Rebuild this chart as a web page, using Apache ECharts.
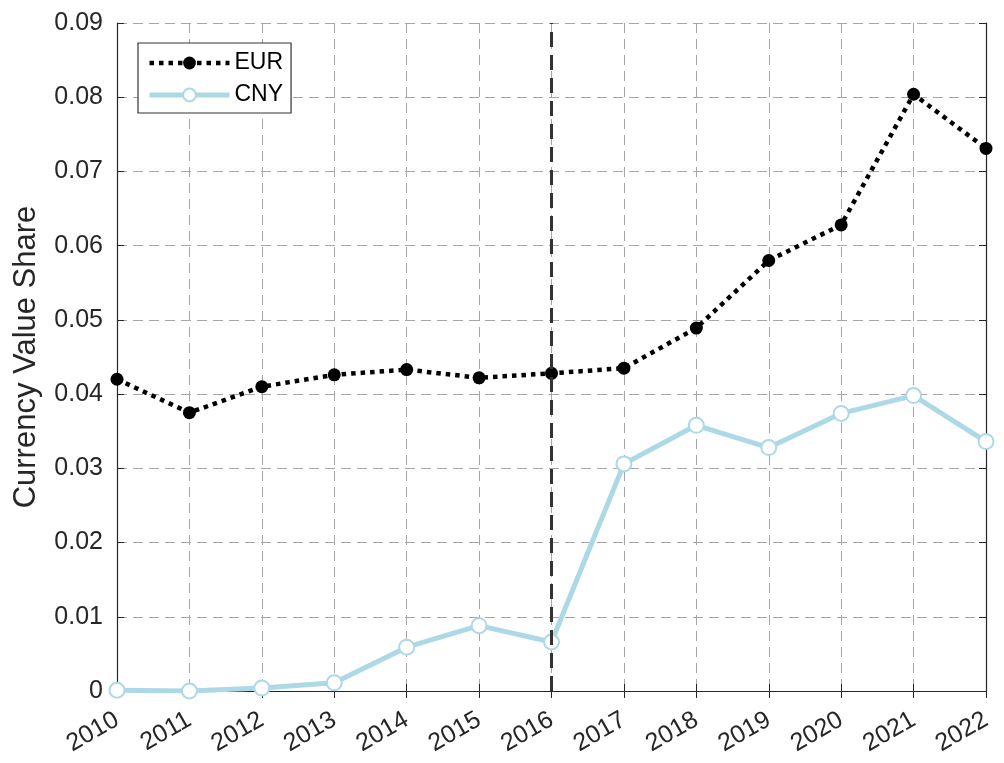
<!DOCTYPE html>
<html>
<head>
<meta charset="utf-8">
<script src="https://cdn.jsdelivr.net/npm/echarts@6/dist/echarts.min.js"></script>
<style>
  html, body { margin: 0; padding: 0; background: #fff; }
  #chart { width: 1004px; height: 763px; }
</style>
</head>
<body>
<div id="chart"></div>
<script>
// data
const years = ['2010', '2011', '2012', '2013', '2014', '2015', '2016',
  '2017', '2018', '2019', '2020', '2021', '2022'];
const eurShare = [0.0420, 0.0375, 0.0410, 0.0426, 0.0433, 0.0422, 0.0428,
  0.0435, 0.0489, 0.0580, 0.0628, 0.0804, 0.0731];
const cnyShare = [0.0001, 0.0000, 0.0004, 0.0011, 0.0059, 0.0088, 0.0066,
  0.0306, 0.0358, 0.0328, 0.0374, 0.0398, 0.0336];
const breakYear = '2016';

const txt = '#262626';
const blue = '#add8e6';
const gridLine = { show: true, lineStyle: { color: '#a6a6a6', type: [10, 6], width: 1 } };

const myChart = echarts.init(document.getElementById('chart'));
myChart.setOption({
  animation: false,
  textStyle: { fontFamily: 'Liberation Sans, Arial, sans-serif' },
  grid: { left: 117, right: 18, top: 23, bottom: 72, containLabel: false },
  legend: {
    left: 138, top: 43,
    orient: 'vertical',
    itemWidth: 80, itemHeight: 16, itemGap: 8, itemTextGap: 6,
    padding: [8, 8, 6, 9],
    borderColor: '#333', borderWidth: 1.2, backgroundColor: '#fff',
    textStyle: { fontSize: 23, color: '#000', lineHeight: 24 },
    data: [
      { name: 'EUR', lineStyle: { color: '#000', width: 4.5, type: [4.5, 5], cap: 'butt' },
        itemStyle: { color: '#000' } },
      { name: 'CNY', lineStyle: { color: blue, width: 5, type: 'solid' },
        itemStyle: { color: blue, borderColor: blue, borderWidth: 3.5 } }
    ]
  },
  xAxis: [{
    type: 'category', data: years, boundaryGap: false,
    axisLine: { lineStyle: { color: '#262626', width: 1.2 } },
    axisTick: { inside: true, length: 7, alignWithLabel: true, lineStyle: { color: '#262626' } },
    axisLabel: { rotate: 30, fontSize: 25, color: txt, margin: 27 },
    splitLine: gridLine
  }, {
    type: 'category', data: years, boundaryGap: false, position: 'top',
    axisLine: { lineStyle: { color: '#262626', width: 1.2 } },
    axisTick: { inside: true, length: 7, lineStyle: { color: '#262626' } },
    axisLabel: { show: false }, splitLine: { show: false }
  }],
  yAxis: [{
    type: 'value', min: 0, max: 0.09, interval: 0.01,
    name: 'Currency Value Share', nameLocation: 'middle', nameGap: 75,
    nameTextStyle: { fontSize: 31, color: txt },
    axisLine: { show: true, lineStyle: { color: '#262626', width: 1.2 } },
    axisTick: { show: true, inside: true, length: 7, lineStyle: { color: '#262626' } },
    axisLabel: { fontSize: 25, color: txt, margin: 14,
      formatter: v => v === 0 ? '0' : v.toFixed(2) },
    splitLine: gridLine
  }, {
    type: 'value', min: 0, max: 0.09, interval: 0.01, position: 'right',
    axisLine: { show: true, lineStyle: { color: '#262626', width: 1.2 } },
    axisTick: { show: true, inside: true, length: 7, lineStyle: { color: '#262626' } },
    axisLabel: { show: false }, splitLine: { show: false }
  }],
  series: [{
    name: 'EUR', type: 'line', data: eurShare,
    symbol: 'circle', symbolSize: 13,
    itemStyle: { color: '#000' },
    lineStyle: { color: '#000', width: 4.5, type: [4.5, 5], cap: 'butt' },
    markLine: {
      silent: true, symbol: 'none', label: { show: false },
      lineStyle: { color: '#333', width: 3, type: [15, 8] },
      data: [{ xAxis: breakYear }]
    },
    z: 3
  }, {
    name: 'CNY', type: 'line', data: cnyShare,
    symbol: 'emptyCircle', symbolSize: 15,
    itemStyle: { color: blue, borderWidth: 3.5 },
    lineStyle: { color: blue, width: 5 },
    z: 4
  }]
});
</script>
</body>
</html>
